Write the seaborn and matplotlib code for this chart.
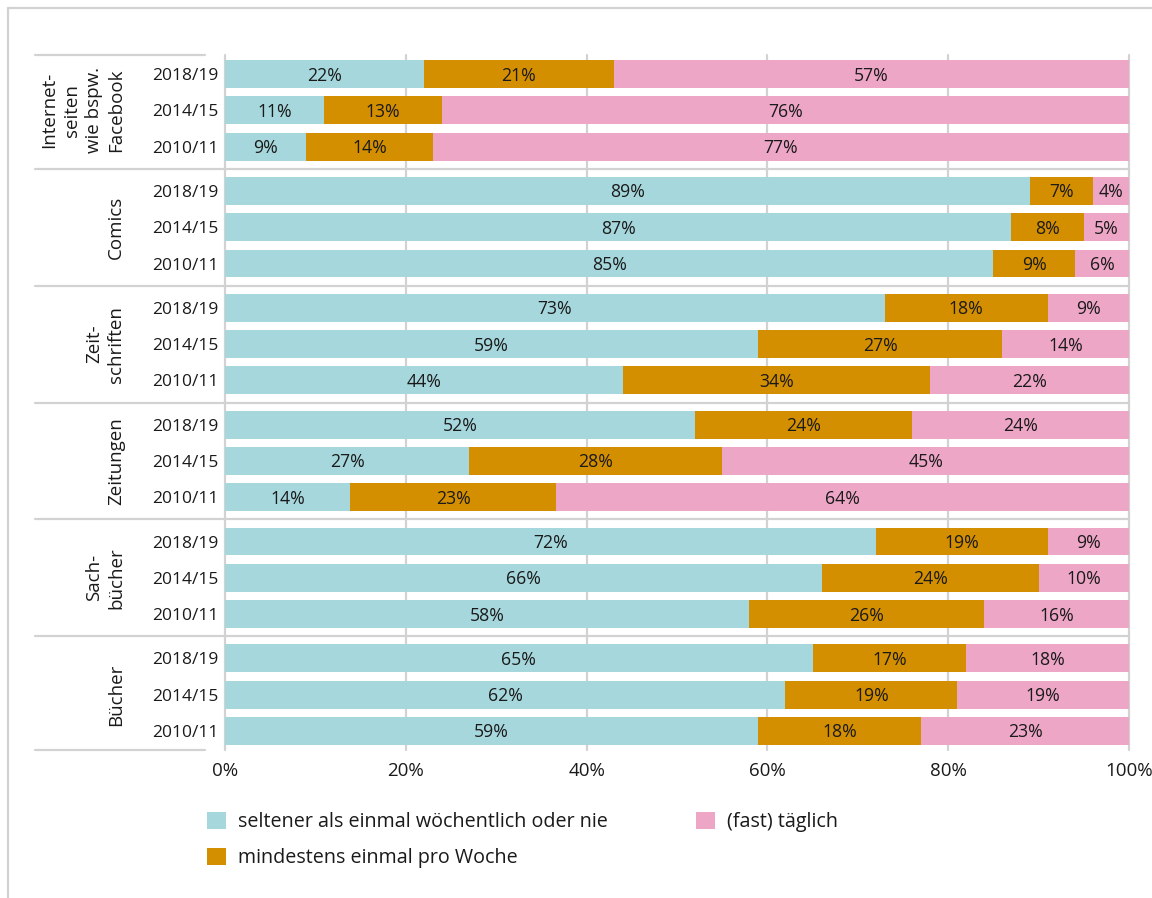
import numpy as np
import pandas as pd
import seaborn as sns
import matplotlib.pyplot as plt
from matplotlib.patches import Patch
from matplotlib.lines import Line2D
import matplotlib.transforms as mtransforms

# ---------------- data ----------------
groups = ["Internet-\nseiten\nwie bspw.\nFacebook", "Comics", "Zeit-\nschriften",
          "Zeitungen", "Sach-\nbücher", "Bücher"]
years = ["2018/19", "2014/15", "2010/11"]
series = ["seltener als einmal wöchentlich oder nie",
          "mindestens einmal pro Woche",
          "(fast) täglich"]
selten = [22, 11, 9, 89, 87, 85, 73, 59, 44, 52, 27, 14, 72, 66, 58, 65, 62, 59]
woche = [21, 13, 14, 7, 8, 9, 18, 27, 34, 24, 28, 23, 19, 24, 26, 17, 19, 18]
taeglich = [57, 76, 77, 4, 5, 6, 9, 14, 22, 24, 45, 64, 9, 10, 16, 18, 19, 23]
x_ticks = [0, 20, 40, 60, 80, 100]
x_ticklabels = ["0%", "20%", "40%", "60%", "80%", "100%"]

colors = ["#a6d7dc", "#d48f00", "#eea6c7"]
grid_col = "#d2d2d2"
text_col = "#1a1a1a"

# ---------------- layout ----------------
sns.set_theme(style="white")
plt.rcParams["font.family"] = ["Open Sans", "DejaVu Sans"]

GSTEP = 3.22
pos = [g * GSTEP + r for g in range(len(groups)) for r in range(len(years))]

s = np.array(selten, float)
w = np.array(woche, float)
t = np.array(taeglich, float)
tot = s + w + t
e1 = s / tot * 100
e2 = (s + w) / tot * 100
e3 = tot / tot * 100

df = pd.DataFrame({"pos": pos, "e1": e1, "e2": e2, "e3": e3})

W, H = 1152, 898
fig = plt.figure(figsize=(W / 100, H / 100), dpi=100)
ax = fig.add_axes([225 / W, (H - 750) / H, 904 / W, 695 / H])

for col, c in zip(["e3", "e2", "e1"], colors[::-1]):
    sns.barplot(data=df, x=col, y="pos", orient="y", native_scale=True,
                color=c, saturation=1, width=0.77, linewidth=0,
                errorbar=None, ax=ax, zorder=2)

ylo = -0.525
yhi = (len(groups) - 1) * GSTEP + 2 + 0.525
ax.set_xlim(0, 100)
ax.set_ylim(yhi, ylo)

# segment labels
for i, p in enumerate(pos):
    starts = [0, e1[i], e2[i]]
    ends = [e1[i], e2[i], e3[i]]
    vals = [selten[i], woche[i], taeglich[i]]
    for a, b, v in zip(starts, ends, vals):
        ax.text((a + b) / 2, p + 0.04, f"{v}%", ha="center", va="center",
                fontsize=12.7, color=text_col, zorder=5)

# axes styling
for sp in ax.spines.values():
    sp.set_visible(False)
ax.set_xlabel("")
ax.set_ylabel("")
ax.set_xticks(x_ticks)
ax.set_xticklabels(x_ticklabels)
ax.set_yticks(pos)
ax.set_yticklabels(years * len(groups))
ax.tick_params(axis="x", length=0, pad=9, labelsize=13.5, colors=text_col)
ax.tick_params(axis="y", length=0, pad=5, labelsize=12.5, colors=text_col)
ax.set_axisbelow(True)
ax.grid(False)
for xv in x_ticks:
    ax.axvline(xv, color=grid_col, lw=1.6, zorder=0, clip_on=False)

# group separators
trans = mtransforms.blended_transform_factory(ax.transAxes, ax.transData)
left_frac = (35 - 225) / 904
gap_frac = (205 - 225) / 904
bounds = [ylo] + [g * GSTEP + 2 + (GSTEP - 2) / 2 for g in range(len(groups) - 1)] + [yhi]
for k, b in enumerate(bounds):
    if k == 0 or k == len(bounds) - 1:
        ax.plot([left_frac, gap_frac], [b, b], transform=trans, color=grid_col,
                lw=1.6, clip_on=False, zorder=0)
    else:
        ax.plot([left_frac, 1.0], [b, b], transform=trans, color=grid_col,
                lw=1.6, clip_on=False, zorder=1)

# group labels
for g, name in enumerate(groups):
    ax.text((125 - 225) / 904, g * GSTEP + 1, name, transform=trans,
            rotation=90, ha="right", va="center", multialignment="center",
            fontsize=13.5, color=text_col, linespacing=1.3)

# outer frame
fig.add_artist(Line2D([8 / W, 8 / W], [0, 1 - 8 / H], color=grid_col, lw=1.6))
fig.add_artist(Line2D([8 / W, 1], [1 - 8 / H, 1 - 8 / H], color=grid_col, lw=1.6))

# legend
handles = [Patch(facecolor=c, edgecolor="none") for c in colors]
fig.legend(handles, series, loc="upper left",
           bbox_to_anchor=(203 / W, 1 - 808 / H), ncol=2, frameon=False,
           fontsize=14.2, handlelength=0.95, handleheight=0.95, handletextpad=0.6,
           columnspacing=4.5, labelspacing=0.8, borderaxespad=0, borderpad=0.2,
           labelcolor=text_col)

fig.savefig("out.png", dpi=100, facecolor="white")
